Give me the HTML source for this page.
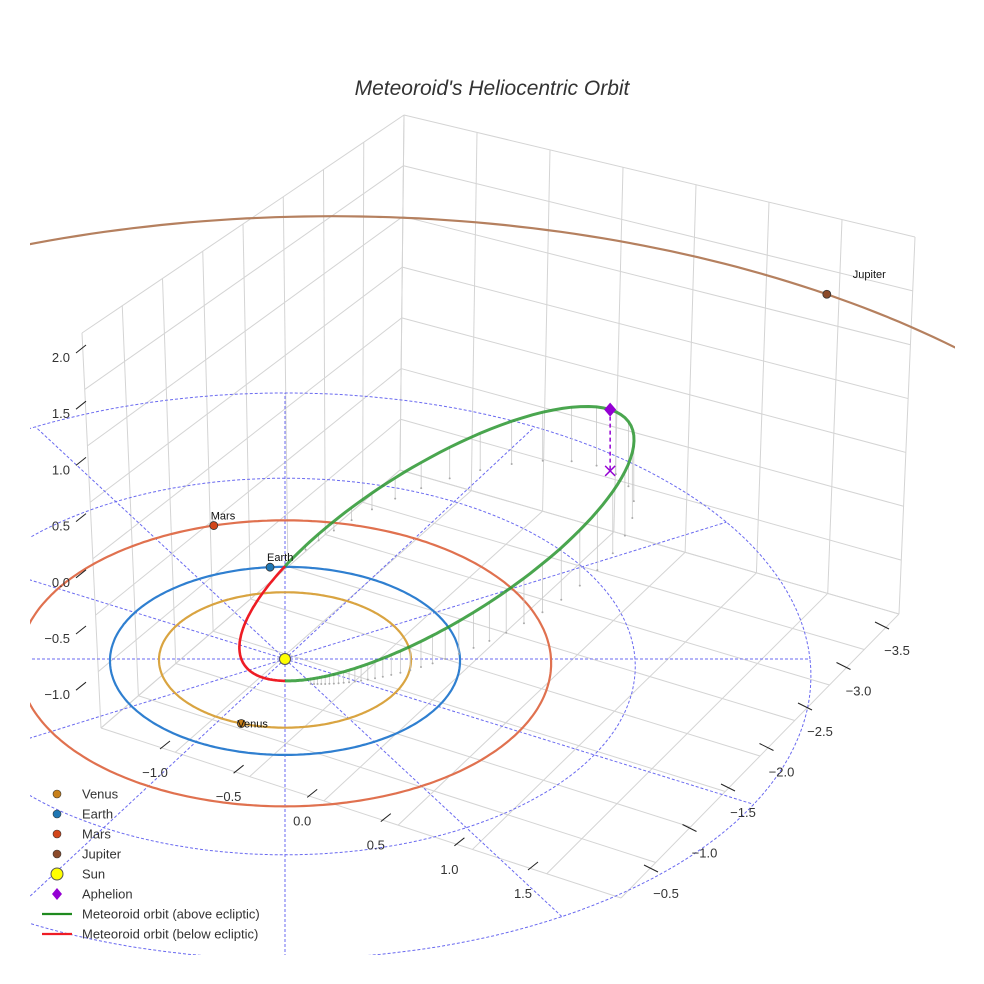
<!DOCTYPE html>
<html><head><meta charset="utf-8"><style>
html,body{margin:0;padding:0;background:#fff;overflow:hidden;width:984px;height:984px;}
svg{display:block;font-family:"Liberation Sans",sans-serif;}
</style></head><body>
<svg id="chart" width="984" height="984" viewBox="0 0 984 984">
<defs><clipPath id="clip"><rect x="30" y="100" width="925" height="855"/></clipPath></defs>
<text x="492" y="95" text-anchor="middle" font-size="21" font-style="italic" fill="#333">Meteoroid's Heliocentric Orbit</text>
<g id="box"></g>
<g id="plot" clip-path="url(#clip)"></g>
<g id="axes"></g>
<g id="legend"></g>
</svg>
<script>
// ---- data ----
const planetNames = ["Venus","Earth","Mars","Jupiter"];
const planetRadii = [0.72, 1.0, 1.52, 5.2];
const planetAngles = [250, 95, 106, 54];
const planetColors = ["#d9a441","#2f7fd0","#e0714f","#b5805f"];
const markerColors = ["#c8801a","#1f77b4","#d2461a","#8b4a2a"];
const orbitSemiMajor = 1.55;
const orbitEcc = 0.87;
const orbitIncl = 16;
const orbitAphArg = 44;
const zTicks = ["2.0","1.5","1.0","0.5","0.0","−0.5","−1.0"];
const xTicks = ["−1.0","−0.5","0.0","0.5","1.0","1.5"];
const yTicks = ["−3.5","−3.0","−2.5","−2.0","−1.5","−1.0","−0.5"];
const ringRadii = [1,2,3];

const NS="http://www.w3.org/2000/svg";
function P(u,v,z){const s=1/(1-0.02*v);return [285+175*u*s, 659+94*v*s-115*z*s];}
function polar(r,th,du){const t=th*Math.PI/180;return [r*Math.cos(t)+(du||0), -r*Math.sin(t)];}
function mk(parent,tag,attrs){const e=document.createElementNS(NS,tag);for(const k in attrs)e.setAttribute(k,attrs[k]);parent.appendChild(e);return e;}
const plot=document.getElementById('plot'), box=document.getElementById('box'), axes=document.getElementById('axes'), legend=document.getElementById('legend');

// ---- box grid ----
function lerp(a,b,t){return [a[0]+(b[0]-a[0])*t,a[1]+(b[1]-a[1])*t];}
function quadGrid(p00,p10,p01,p11,n,m,name){
  for(let i=0;i<=n;i++){const t=i/n;const a=lerp(p00,p10,t),b=lerp(p01,p11,t);
    const l=mk(box,'line',{x1:a[0],y1:a[1],x2:b[0],y2:b[1],stroke:'#d4d4d4','stroke-width':1});
    
    }
  for(let j=0;j<=m;j++){const t=j/m;const a=lerp(p00,p01,t),b=lerp(p10,p11,t);
    const l=mk(box,'line',{x1:a[0],y1:a[1],x2:b[0],y2:b[1],stroke:'#d4d4d4','stroke-width':1});
    
    }
}
quadGrid([101,728],[400,470],[82,333],[404,115],8,7,'left-wall');
quadGrid([400,470],[899,614],[404,115],[915,237],7,7,'right-wall');
quadGrid([101,728],[621,898],[400,470],[899,614],7,8,'floor');

// ---- polar dashed grid ----
for(const r of ringRadii){let d='';for(let a=0;a<=360;a+=2){const q=polar(r,a);const p=P(q[0],q[1],0);d+=(a?'L':'M')+p[0].toFixed(1)+' '+p[1].toFixed(1);}
  const e=mk(plot,'path',{d:d,fill:'none',stroke:'#6a6af0','stroke-width':1,'stroke-dasharray':'3 2'});
  
  }
for(let a=0;a<360;a+=30){const q=polar(3,a);const p0=P(0,0,0),p1=P(q[0],q[1],0);
  const e=mk(plot,'line',{x1:p0[0],y1:p0[1],x2:p1[0],y2:p1[1],stroke:'#6a6af0','stroke-width':1,'stroke-dasharray':'3 2'});
  
  }

// ---- planet orbits ----
planetNames.forEach((n,i)=>{const du=n==='Jupiter'?0.3:0;let d='';
  for(let a=0;a<=360;a+=1){const q=polar(planetRadii[i],a,du);const p=P(q[0],q[1],0);d+=(a?'L':'M')+p[0].toFixed(1)+' '+p[1].toFixed(1);}
  const e=mk(plot,'path',{d:d,fill:'none',stroke:planetColors[i],'stroke-width':2.2});
  
  
});

// ---- meteoroid orbit ----
const inc=orbitIncl*Math.PI/180, pp=orbitSemiMajor*(1-orbitEcc*orbitEcc);
function orbitPt(psi){const nu=(psi-(orbitAphArg+180))*Math.PI/180;const r=pp/(1+orbitEcc*Math.cos(nu));
  const ps=psi*Math.PI/180;return [r*Math.sin(ps)*Math.cos(inc), -r*Math.cos(ps), r*Math.sin(ps)*Math.sin(inc)];}
// drop lines
for(let psi=6;psi<=150;psi+=3){const o=orbitPt(psi);const a=P(o[0],o[1],o[2]),b=P(o[0],o[1],0);
  const l=mk(plot,'line',{x1:a[0],y1:a[1],x2:b[0],y2:b[1],stroke:'#c8c8c8','stroke-width':0.8});
  
  
  const c=mk(plot,'circle',{cx:b[0],cy:b[1],r:1,fill:'#aaa'});
  
  }
let dg='',dr='';
for(let psi=0;psi<=180;psi+=1){const o=orbitPt(psi);const p=P(o[0],o[1],o[2]);dg+=(psi?'L':'M')+p[0].toFixed(1)+' '+p[1].toFixed(1);}
for(let psi=180;psi<=360;psi+=1){const o=orbitPt(psi);const p=P(o[0],o[1],o[2]);dr+=(psi>180?'L':'M')+p[0].toFixed(1)+' '+p[1].toFixed(1);}
const g1=mk(plot,'path',{d:dg,fill:'none',stroke:'#2a9630','stroke-width':3,'stroke-opacity':0.85});


const r1=mk(plot,'path',{d:dr,fill:'none',stroke:'#ee1c24','stroke-width':2.6});



// aphelion
const ap=orbitPt(orbitAphArg);const A=P(ap[0],ap[1],ap[2]),A0=P(ap[0],ap[1],0);
const al=mk(plot,'line',{x1:A[0],y1:A[1],x2:A0[0],y2:A0[1],stroke:'#9400d3','stroke-width':1.5,'stroke-dasharray':'4 3'});


const ad=mk(plot,'path',{d:`M${A[0]} ${A[1]-7}L${A[0]+6} ${A[1]}L${A[0]} ${A[1]+7}L${A[0]-6} ${A[1]}Z`,fill:'#9400d3'});


const ax=mk(plot,'path',{d:`M${A0[0]-5} ${A0[1]-5}L${A0[0]+5} ${A0[1]+5}M${A0[0]+5} ${A0[1]-5}L${A0[0]-5} ${A0[1]+5}`,stroke:'#9400d3','stroke-width':1.5});



// planets
planetNames.forEach((n,i)=>{const du=n==='Jupiter'?0.3:0;const q=polar(planetRadii[i],planetAngles[i],du);const p=P(q[0],q[1],0);
  const c=mk(plot,'circle',{cx:p[0],cy:p[1],r:4,fill:markerColors[i],stroke:'#333','stroke-width':0.8});
  
  
  const off=n==='Jupiter'?[26,-16]:(n==='Venus'?[-4,4]:[-3,-6]);
  const t=mk(plot,'text',{x:p[0]+off[0],y:p[1]+off[1],'font-size':11,fill:'#111'});t.textContent=n;
  
  
});
const S=P(0,0,0);
const sun=mk(plot,'circle',{cx:S[0],cy:S[1],r:5.5,fill:'#ffff00',stroke:'#555','stroke-width':1});



// ---- axis ticks & labels ----
zTicks.forEach((t,i)=>{const y=357+i*56.2;
  const l=mk(axes,'line',{x1:76,y1:y-4,x2:86,y2:y-12,stroke:'#222','stroke-width':1});
  
  
  const e=mk(axes,'text',{x:70,y:y+5,'text-anchor':'end','font-size':13,fill:'#333'});e.textContent=t;
  
  });
xTicks.forEach((t,i)=>{const x=155+i*73.6,y=777+i*24.2;
  const l=mk(axes,'line',{x1:x+5,y1:y-28,x2:x+15,y2:y-36,stroke:'#222','stroke-width':1});
  
  
  const e=mk(axes,'text',{x:x,y:y,'text-anchor':'middle','font-size':13,fill:'#333'});e.textContent=t;
  
  });
yTicks.forEach((t,i)=>{const x=897-i*38.5,y=655+i*40.5;
  const l=mk(axes,'line',{x1:x-22,y1:y-33,x2:x-8,y2:y-26,stroke:'#222','stroke-width':1});
  
  
  const e=mk(axes,'text',{x:x,y:y,'text-anchor':'middle','font-size':13,fill:'#333'});e.textContent=t;
  
  });

// ---- legend ----
const legNames=["Venus","Earth","Mars","Jupiter","Sun","Aphelion","Meteoroid orbit (above ecliptic)","Meteoroid orbit (below ecliptic)"];
legNames.forEach((n,i)=>{const y=794+i*20;let m;
  if(i<4){m=mk(legend,'circle',{cx:57,cy:y,r:4,fill:markerColors[i],stroke:'#333','stroke-width':0.6});}
  else if(i===4){m=mk(legend,'circle',{cx:57,cy:y,r:6,fill:'#ffff00',stroke:'#555','stroke-width':1});}
  else if(i===5){m=mk(legend,'path',{d:`M57 ${y-6}L62 ${y}L57 ${y+6}L52 ${y}Z`,fill:'#9400d3'});}
  else {m=mk(legend,'line',{x1:42,y1:y,x2:72,y2:y,stroke:i===6?'#1f8a1f':'#ee1c24','stroke-width':2.2});}
  
  
  const t=mk(legend,'text',{x:82,y:y+4.5,'font-size':13,fill:'#333'});t.textContent=n;
  
  });
</script>
</body></html>
